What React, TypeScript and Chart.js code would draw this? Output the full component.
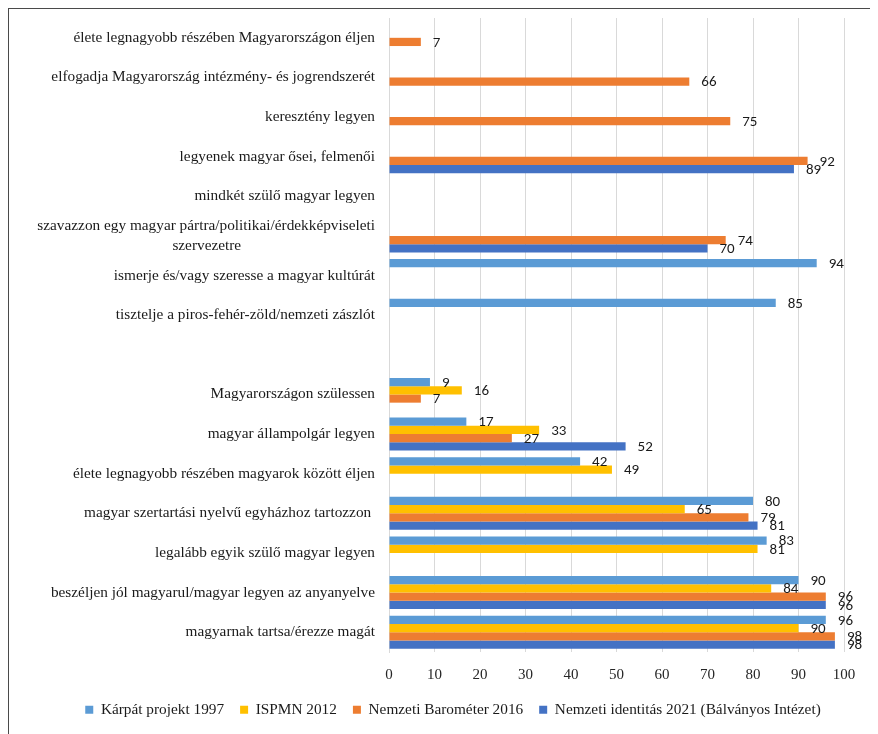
import React, { useEffect, useRef } from "react";
import { Chart, registerables } from "chart.js";

Chart.register(...registerables);

const SPACER = " ".repeat(35);

const categories: (string | string[])[] = [
  "élete legnagyobb részében Magyarországon éljen",
  "elfogadja Magyarország intézmény- és jogrendszerét",
  "keresztény legyen",
  "legyenek magyar ősei, felmenői",
  "mindkét szülő magyar legyen",
  ["szavazzon egy magyar pártra/politikai/érdekképviseleti", "szervezetre" + SPACER],
  "ismerje és/vagy szeresse a magyar kultúrát",
  "tisztelje a piros-fehér-zöld/nemzeti zászlót",
  "",
  "Magyarországon szülessen",
  "magyar állampolgár legyen",
  "élete legnagyobb részében magyarok között éljen",
  "magyar szertartási nyelvű egyházhoz tartozzon ",
  "legalább egyik szülő magyar legyen",
  "beszéljen jól magyarul/magyar legyen az anyanyelve",
  "magyarnak tartsa/érezze magát",
];

const seriesNames = [
  "Kárpát projekt 1997",
  "ISPMN 2012",
  "Nemzeti Barométer 2016",
  "Nemzeti identitás 2021 (Bálványos Intézet)",
];

const karpat1997 = [null, null, null, null, null, null, 94, 85, null, 9, 17, 42, 80, 83, 90, 96];
const ispmn2012 = [null, null, null, null, null, null, null, null, null, 16, 33, 49, 65, 81, 84, 90];
const barometer2016 = [7, 66, 75, 92, null, 74, null, null, null, 7, 27, null, 79, null, 96, 98];
const identitas2021 = [null, null, null, 89, null, 70, null, null, null, null, 52, null, 81, null, 96, 98];

const xTicks = [0, 10, 20, 30, 40, 50, 60, 70, 80, 90, 100];

const colors = ["#5B9BD5", "#FFC000", "#ED7D31", "#4472C4"];

const SERIF = '"Liberation Serif", "Times New Roman", serif';
const SANS = 'Carlito, "Open Sans", sans-serif';

const valueLabels = {
  id: "valueLabels",
  afterDatasetsDraw(chart: any) {
    const ctx = chart.ctx;
    ctx.save();
    ctx.font = `15px ${SANS}`;
    ctx.fillStyle = "#1a1a1a";
    ctx.textAlign = "left";
    ctx.textBaseline = "middle";
    chart.data.datasets.forEach((ds: any, di: number) => {
      const meta = chart.getDatasetMeta(di);
      meta.data.forEach((el: any, i: number) => {
        const v = ds.data[i];
        if (v === null || v === undefined) return;
        ctx.fillText(String(v), el.x + 12, el.y + 1);
      });
    });
    ctx.restore();
  },
};

// centre the legend row under the whole chart box rather than the padded area
const legendShift = {
  id: "legendShift",
  afterLayout(chart: any) {
    const lg = chart.legend;
    if (!lg) return;
    lg.left += 27;
    lg.right += 27;
  },
};

export default function App() {
  const canvasRef = useRef<HTMLCanvasElement | null>(null);

  useEffect(() => {
    if (!canvasRef.current) return;
    const data = [karpat1997, ispmn2012, barometer2016, identitas2021];
    const chart = new Chart(canvasRef.current, {
      type: "bar",
      data: {
        labels: categories,
        datasets: seriesNames.map((name, i) => ({
          label: name,
          data: data[i],
          backgroundColor: colors[i],
          borderWidth: 0,
          categoryPercentage: 0.83,
          barPercentage: 1,
        })),
      },
      options: {
        indexAxis: "y",
        animation: false,
        responsive: false,
        maintainAspectRatio: false,
        layout: { padding: { top: 10, right: 34, left: 0, bottom: 6.5 } },
        scales: {
          x: {
            min: 0,
            max: 100,
            afterBuildTicks: (scale: any) => {
              scale.ticks = xTicks.map((v) => ({ value: v }));
            },
            afterFit: (scale: any) => {
              scale.height = 34.2;
              scale.paddingLeft = 0;
              scale.paddingRight = 0;
            },
            grid: { color: "#D9D9D9", lineWidth: 1, drawTicks: false },
            border: { display: false },
            ticks: {
              padding: 14,
              color: "#262626",
              font: { family: SERIF, size: 15 },
            },
          },
          y: {
            afterFit: (scale: any) => {
              scale.width = 381;
              scale.paddingTop = 0;
              scale.paddingBottom = 0;
            },
            grid: { display: false, drawTicks: false },
            border: { display: true, color: "#D9D9D9", width: 1 },
            ticks: {
              padding: 14,
              color: "#1a1a1a",
              autoSkip: false,
              font: { family: SERIF, size: 15.3, lineHeight: 1.3 },
            },
          },
        },
        plugins: {
          legend: {
            position: "bottom",
            labels: {
              boxWidth: 8,
              boxHeight: 8,
              padding: 16,
              color: "#1a1a1a",
              font: { family: SERIF, size: 15.3 },
            },
          },
          tooltip: { enabled: false },
        },
      },
      plugins: [valueLabels, legendShift],
    });
    return () => chart.destroy();
  }, []);

  return (
    <div style={{ position: "relative", width: 870, height: 726, overflow: "hidden", background: "#fff" }}>
      <div
        style={{
          position: "absolute",
          left: 0,
          top: 0,
          width: 2000,
          height: 2000,
          borderLeft: "1.5px solid #4a4a4a",
          borderTop: "1.5px solid #4a4a4a",
        }}
      />
      <canvas ref={canvasRef} width={870} height={726} style={{ position: "absolute", left: 0, top: 0 }} />
    </div>
  );
}
